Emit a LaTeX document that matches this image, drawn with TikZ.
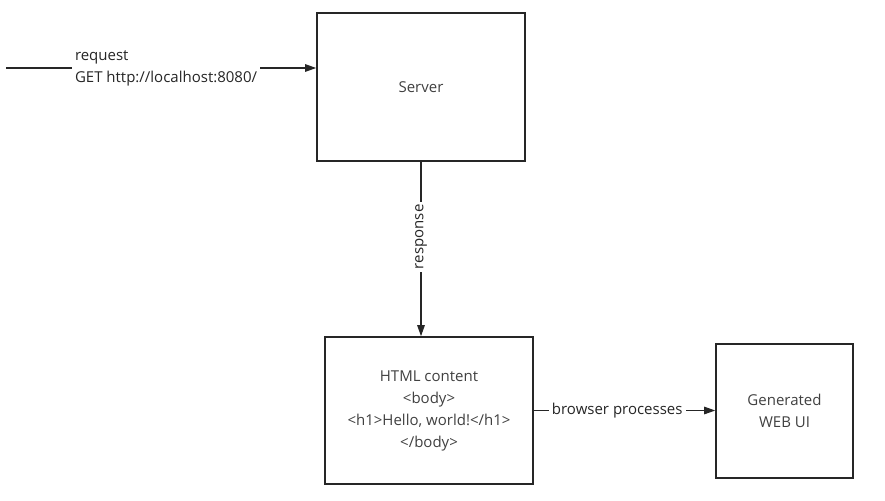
\documentclass[tikz,border=0pt]{standalone}
\usepackage{fontspec}
\setmainfont{Open Sans}
\usetikzlibrary{arrows.meta}
\tikzset{
    box/.style={draw=black!85, line width=1.6pt, align=center, text=black!75, inner sep=0pt},
    flow/.style={draw=black!85, line width=1.1pt, -{Triangle[length=11pt,width=7.5pt]}},
    lbl/.style={fill=white, text=black!85, inner sep=3pt},
}
\begin{document}
\begin{tikzpicture}[x=1pt, y=-1pt, font=\fontsize{15}{22}\selectfont]
    \useasboundingbox (0,0) rectangle (885,500);
    \node[box, minimum width=208pt, minimum height=148pt] (server) at (421,87) {Server};
    \node[box, minimum width=208pt, minimum height=147pt] (html) at (429,410.5) {HTML content\\<body>\\<h1>Hello, world!</h1>\\</body>};
    \node[box, minimum width=137pt, minimum height=134pt] (webui) at (784.5,411) {Generated\\WEB UI};
    \coordinate (client) at (6,68);
    \draw[flow] (client) -- node[lbl, align=left, pos=0.516] (req) {request\\GET http://localhost:8080/} (server.west |- client);
    \draw[flow] (server.south) -- node[lbl, rotate=90, pos=0.43] (resp) {response} (server.south |- html.north);
    \draw[flow] (html.east) -- node[lbl, pos=0.46] (proc) {browser processes} (webui.west |- html.east);
\end{tikzpicture}
\end{document}
